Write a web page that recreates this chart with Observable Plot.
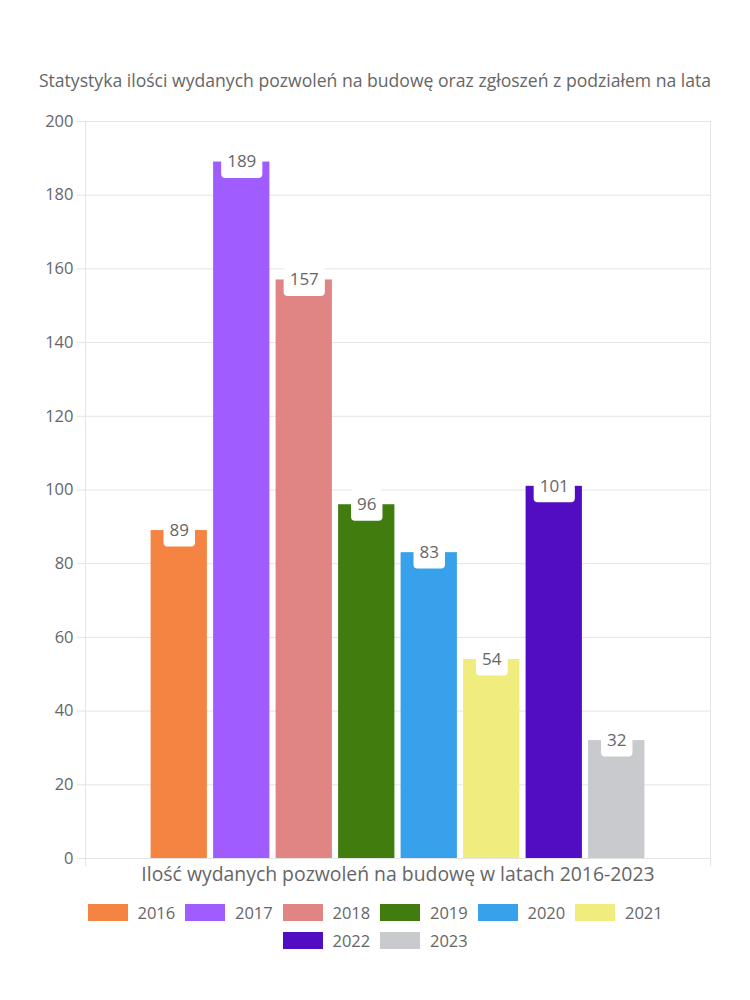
<!DOCTYPE html>
<html>
<head>
<meta charset="utf-8">
<script src="https://cdn.jsdelivr.net/npm/d3@7"></script>
<script src="https://cdn.jsdelivr.net/npm/@observablehq/plot@0.6"></script>
<style>
  body { margin: 0; background: #fff; font-family: "Open Sans", sans-serif; color: #666; }
  #wrap { width: 750px; height: 1000px; position: relative; overflow: hidden; }
  #title { position: absolute; top: 67px; left: 0; width: 750px; text-align: center; font-size: 17.6px; line-height: 26px; color: #666; white-space: nowrap; }
  #chart { position: absolute; top: 100px; left: 0; }
  #legend { position: absolute; top: 898px; left: 75px; width: 600px; display: flex; flex-wrap: wrap; justify-content: center; }
  .item { width: 97.5px; box-sizing: border-box; padding-left: 5px; height: 28px; display: flex; align-items: center; }
  .sw { width: 40px; height: 17px; margin-right: 10px; flex: none; }
  .lb { font-size: 16.5px; color: #666; white-space: nowrap; }
</style>
</head>
<body>
<div id="wrap">
  <div id="title"></div>
  <div id="chart"></div>
  <div id="legend"></div>
</div>
<script>
const titleText = "Statystyka ilości wydanych pozwoleń na budowę oraz zgłoszeń z podziałem na lata";
const xLabel = "Ilość wydanych pozwoleń na budowę w latach 2016-2023";
const years = ["2016", "2017", "2018", "2019", "2020", "2021", "2022", "2023"];
const values = [89, 189, 157, 96, 83, 54, 101, 32];
const colors = ["#f58442", "#a05cff", "#e18484", "#407c0e", "#37a2eb", "#f1ec7e", "#520cc2", "#c9cacd"];
const yTicks = [0, 20, 40, 60, 80, 100, 120, 140, 160, 180, 200];

const data = years.map((y, i) => ({ year: +y, label: y, value: values[i], color: colors[i] }));
const xMin = +years[0] - 1.5;
const xMax = +years[years.length - 1] + 1.5;

document.getElementById("title").textContent = titleText;

const gridColor = "#e4e4e4";

const plot = Plot.plot({
  width: 750,
  height: 800,
  marginTop: 21,
  marginBottom: 42,
  marginLeft: 85,
  marginRight: 40,
  style: { fontFamily: "'Open Sans', sans-serif", background: "transparent" },
  x: { type: "linear", domain: [xMin, xMax], axis: null },
  y: { domain: [0, 200], axis: null },
  marks: [
    Plot.gridY(yTicks, { stroke: gridColor, strokeOpacity: 1 }),
    Plot.axisY({ ticks: yTicks, tickSize: 8, tickPadding: 4, stroke: gridColor, strokeOpacity: 1, fill: "#666", fontSize: 16.5, label: null }),
    Plot.ruleX([xMin, xMax], { stroke: gridColor, insetBottom: -8 }),
    Plot.ruleY([0], { stroke: gridColor }),
    Plot.rectY(data, { x1: d => d.year - 0.5, x2: d => d.year + 0.5, y1: 0, y2: "value", fill: "color", insetLeft: 3.1, insetRight: 3.1 }),
    Plot.text(data, { x: "year", y: "value", text: d => String(d.value), dy: 0, fill: "#666", fontSize: 17, className: "barlabels" }),
    Plot.text([xLabel], { frameAnchor: "bottom", dy: 22, fill: "#666", fontSize: 19.4 })
  ]
});
document.getElementById("chart").appendChild(plot);

// white rounded backgrounds behind bar value labels
const texts = plot.querySelectorAll(".barlabels text");
texts.forEach(t => {
  const bb = t.getBBox();
  const cy = bb.y + bb.height / 2;
  const r = document.createElementNS("http://www.w3.org/2000/svg", "rect");
  r.setAttribute("x", bb.x - 6);
  r.setAttribute("width", bb.width + 12);
  r.setAttribute("y", cy - 15);
  r.setAttribute("height", 32);
  r.setAttribute("rx", 4);
  r.setAttribute("fill", "#fff");
  const tr = t.getAttribute("transform");
  if (tr) r.setAttribute("transform", tr);
  t.parentNode.insertBefore(r, t);
});

const legend = document.getElementById("legend");
years.forEach((y, i) => {
  const it = document.createElement("div");
  it.className = "item";
  const sw = document.createElement("div");
  sw.className = "sw";
  sw.style.background = colors[i];
  const lb = document.createElement("span");
  lb.className = "lb";
  lb.textContent = y;
  it.appendChild(sw);
  it.appendChild(lb);
  legend.appendChild(it);
});
</script>
</body>
</html>
